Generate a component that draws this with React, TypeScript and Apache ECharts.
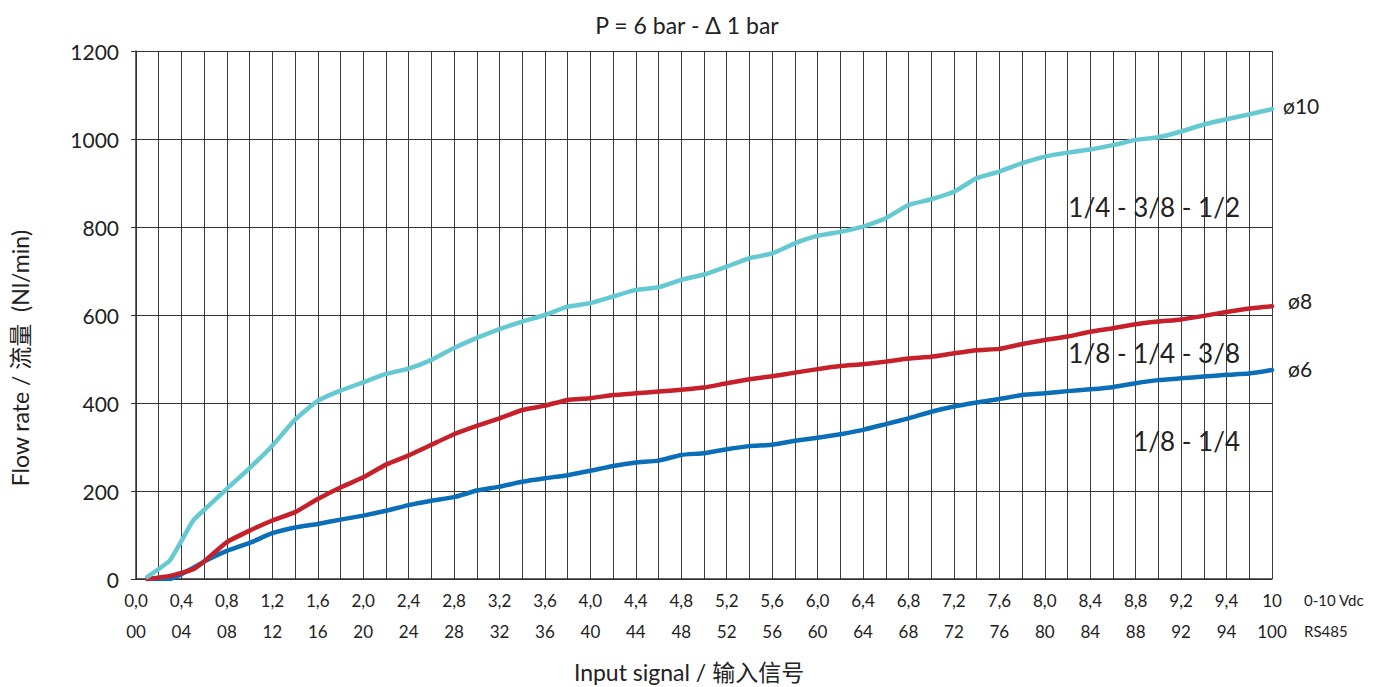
import React, { useEffect, useRef } from "react";
import * as echarts from "echarts";

const xs = [0.1, 0.3, 0.5, 0.6, 0.8, 1.0, 1.2, 1.4, 1.6, 1.8, 2.0, 2.2, 2.4, 2.6, 2.8, 3.0, 3.2, 3.4, 3.6, 3.8, 4.0, 4.2, 4.4, 4.6, 4.8, 5.0, 5.2, 5.4, 5.6, 5.8, 6.0, 6.2, 6.4, 6.6, 6.8, 7.0, 7.2, 7.4, 7.6, 7.8, 8.0, 8.2, 8.4, 8.6, 8.8, 9.0, 9.2, 9.4, 9.6, 9.8, 10.0];

const phi10 = [5, 43, 132, 157, 205, 252, 303, 362, 405, 428, 447, 466, 478, 498, 525, 548, 568, 585, 600, 619, 627, 642, 657, 663, 680, 692, 710, 729, 740, 763, 780, 789, 801, 820, 850, 863, 880, 911, 926, 945, 960, 969, 976, 986, 998, 1004, 1017, 1033, 1045, 1056, 1068];

const phi8 = [0, 7, 22, 40, 84, 110, 133, 152, 182, 208, 231, 260, 281, 305, 329, 348, 365, 384, 394, 407, 411, 418, 422, 426, 430, 435, 445, 454, 461, 469, 477, 484, 488, 494, 501, 505, 513, 520, 523, 534, 543, 551, 562, 570, 579, 585, 590, 598, 607, 615, 620];

const phi6 = [0, 0, 25, 40, 64, 82, 104, 117, 125, 135, 144, 155, 168, 178, 186, 201, 210, 221, 229, 236, 246, 257, 265, 269, 282, 286, 295, 302, 305, 314, 321, 329, 339, 352, 365, 380, 392, 401, 409, 418, 422, 427, 431, 436, 445, 452, 456, 460, 464, 467, 475];

const vdcLabels = ["0,0", "0,4", "0,8", "1,2", "1,6", "2,0", "2,4", "2,8", "3,2", "3,6", "4,0", "4,4", "4,8", "5,2", "5,6", "6,0", "6,4", "6,8", "7,2", "7,6", "8,0", "8,4", "8,8", "9,2", "9,4", "10"];
const rsLabels = ["00", "04", "08", "12", "16", "20", "24", "28", "32", "36", "40", "44", "48", "52", "56", "60", "64", "68", "72", "76", "80", "84", "88", "92", "94", "100"];

const FONT = "Lato, 'Noto Sans', 'Noto Sans CJK SC', sans-serif";
const TXT = "#222222";

export default function App() {
  const ref = useRef<HTMLDivElement>(null);
  useEffect(() => {
    if (!ref.current) return;
    const chart = echarts.init(ref.current, undefined, { renderer: "svg" });
    const pairs = (ys: number[]) => xs.map((x, i) => [x, ys[i]]);
    const lineSeries = (name: string, ys: number[], color: string) => ({
      name,
      type: "line",
      data: pairs(ys),
      showSymbol: false,
      symbol: "none",
      smooth: 0.15,
      lineStyle: { color, width: 4.5, join: "round", cap: "round" },
      itemStyle: { color },
      z: 3,
    });
    chart.setOption({
      animation: false,
      backgroundColor: "#ffffff",
      textStyle: { fontFamily: FONT },
      title: {
        text: "P = 6 bar - Δ 1 bar",
        left: "center",
        top: 8,
        textStyle: { fontFamily: FONT, fontSize: 23, fontWeight: "normal", color: TXT },
      },
      grid: { left: 136, right: 102, top: 51, bottom: 108 },
      xAxis: {
        type: "value",
        min: 0,
        max: 10,
        interval: 0.2,
        axisLine: { show: true, lineStyle: { color: "#333", width: 1.5 } },
        axisTick: { show: false },
        splitLine: { show: true, lineStyle: { color: "#3a3a3a", width: 1 } },
        axisLabel: {
          showMinLabel: true,
          showMaxLabel: true,
          margin: 6,
          lineHeight: 31,
          formatter: (v: number) => {
            const idx = Math.round(v * 5);
            if (idx % 2 !== 0) return "";
            const k = idx / 2;
            return `{a|${vdcLabels[k]}}\n{a|${rsLabels[k]}}`;
          },
          rich: {
            a: { fontFamily: FONT, fontSize: 17, color: TXT, lineHeight: 31 },
          },
        },
      },
      yAxis: {
        type: "value",
        min: 0,
        max: 1200,
        interval: 200,
        axisLine: { show: true, lineStyle: { color: "#333", width: 1.5 } },
        axisTick: { show: true, length: 5, lineStyle: { color: "#333" } },
        splitLine: { show: true, lineStyle: { color: "#333", width: 1 } },
        axisLabel: {
          margin: 17,
          fontFamily: FONT,
          fontSize: 21,
          color: TXT,
          formatter: (v: number) => String(v),
        },
      },
      series: [
        lineSeries("ø6", phi6, "#0B6FB8"),
        lineSeries("ø8", phi8, "#C6202B"),
        lineSeries("ø10", phi10, "#65C9D2"),
      ],
      graphic: [
        {
          type: "text",
          x: 20,
          y: 358,
          rotation: Math.PI / 2,
          style: { text: "Flow rate / 流量  (Nl/min)", fontFamily: FONT, fontSize: 23, fill: TXT, textAlign: "center", textVerticalAlign: "middle" },
        },
        {
          type: "text",
          x: 689,
          y: 672,
          style: { text: "Input signal / 输入信号", fontFamily: FONT, fontSize: 23, fill: TXT, textAlign: "center", textVerticalAlign: "middle" },
        },
        {
          type: "text",
          x: 1304,
          y: 600,
          style: { text: "0-10 Vdc", fontFamily: FONT, fontSize: 15, fill: TXT, textAlign: "left", textVerticalAlign: "middle" },
        },
        {
          type: "text",
          x: 1304,
          y: 631,
          style: { text: "RS485", fontFamily: FONT, fontSize: 15, fill: TXT, textAlign: "left", textVerticalAlign: "middle" },
        },
        {
          type: "text",
          x: 1283,
          y: 105,
          style: { text: "ø10", fontFamily: FONT, fontSize: 21, fill: TXT, textAlign: "left", textVerticalAlign: "middle" },
        },
        {
          type: "text",
          x: 1288,
          y: 300,
          style: { text: "ø8", fontFamily: FONT, fontSize: 21, fill: TXT, textAlign: "left", textVerticalAlign: "middle" },
        },
        {
          type: "text",
          x: 1288,
          y: 368,
          style: { text: "ø6", fontFamily: FONT, fontSize: 21, fill: TXT, textAlign: "left", textVerticalAlign: "middle" },
        },
        {
          type: "text",
          x: 1240,
          y: 207,
          z: 10,
          style: { text: "1/4 - 3/8 - 1/2", fontFamily: FONT, fontSize: 26, fill: TXT, textAlign: "right", textVerticalAlign: "middle" },
        },
        {
          type: "text",
          x: 1240,
          y: 353,
          z: 10,
          style: { text: "1/8 - 1/4 - 3/8", fontFamily: FONT, fontSize: 26, fill: TXT, textAlign: "right", textVerticalAlign: "middle" },
        },
        {
          type: "text",
          x: 1240,
          y: 441,
          z: 10,
          style: { text: "1/8 - 1/4", fontFamily: FONT, fontSize: 26, fill: TXT, textAlign: "right", textVerticalAlign: "middle" },
        },
      ],
    });
    return () => chart.dispose();
  }, []);
  return (
    <div
      ref={ref}
      style={{ position: "fixed", left: 0, top: 0, width: 1374, height: 687, background: "#fff" }}
    />
  );
}
